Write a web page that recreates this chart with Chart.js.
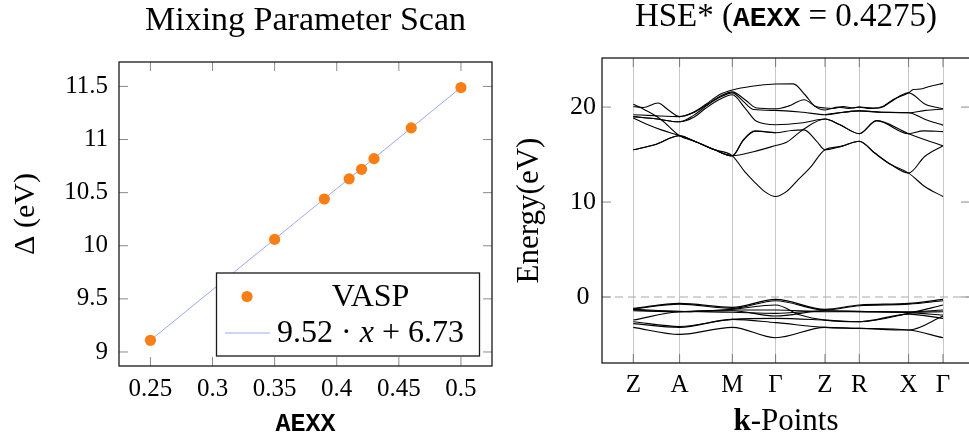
<!DOCTYPE html>
<html>
<head>
<meta charset="utf-8">
<script src="https://cdn.jsdelivr.net/npm/chart.js@4.4.1/dist/chart.umd.min.js"></script>
<style>
  html, body { margin: 0; padding: 0; background: #fff; overflow: hidden; }
  canvas { position: absolute; top: 0; }
  #scan { left: 0; }
  #bands { left: 500px; }
</style>
</head>
<body>
<canvas id="scan" width="500" height="443"></canvas>
<canvas id="bands" width="480" height="443"></canvas>
<script>
// ---- mixing parameter scan ----
const aexx = [0.25, 0.35, 0.39, 0.41, 0.42, 0.43, 0.46, 0.5];
const gap = [9.11, 10.06, 10.44, 10.63, 10.72, 10.82, 11.11, 11.49];
const fitSlope = 9.52;
const fitIntercept = 6.73;
const fitX = [0.25, 0.5];
const scanXTicks = [0.25, 0.3, 0.35, 0.4, 0.45, 0.5];
const scanYTicks = [9, 9.5, 10, 10.5, 11, 11.5];

// ---- band structure, k-path Z-A-M-Γ-Z-R-X-Γ ----
const kLabels = ['Z', 'A', 'M', 'Γ', 'Z', 'R', 'X', 'Γ'];
const kPos = [0, 0.463, 0.99, 1.423, 1.917, 2.26, 2.753, 3.097];
const energyTicks = [0, 10, 20];

// conduction bands [k, E]
const cb1 = [[0,15.5],[0.213,16.03],[0.463,16.98],[0.613,16.4],[0.813,15.5],[0.99,14.87],[1.114,13.2],[1.207,12.16],[1.314,11.1],[1.423,10.58],[1.53,11.1],[1.647,12.34],[1.764,13.57],[1.917,15.5],[2.08,15.86],[2.26,16.41],[2.414,15.16],[2.58,13.92],[2.753,13.05],[2.914,11.64],[3.097,10.58]];
const cb2 = [[0,15.5],[0.213,16.03],[0.463,16.98],[0.613,16.4],[0.813,15.5],[0.99,14.87],[1.213,15.33],[1.423,15.95],[1.533,16.3],[1.707,17.7],[1.917,18.74],[2.067,18.14],[2.26,17.2],[2.433,18.57],[2.753,17.2],[2.9,17.5],[3.097,17.42]];
const cb3 = [[0,18.85],[0.147,18.14],[0.28,17.6],[0.463,16.98],[0.613,16.4],[0.813,15.5],[0.99,14.87],[1.1,16.56],[1.217,17.5],[1.423,17.3],[1.584,17.54],[1.707,17.6],[1.834,16.4],[1.917,15.5],[2.08,15.86],[2.26,16.41],[2.414,15.16],[2.58,13.92],[2.753,13.05],[2.914,14.8],[3.097,15.93]];
const cb4 = [[0,20.3],[0.117,19.7],[0.28,18.67],[0.463,16.98],[0.613,16.4],[0.813,15.5],[0.99,14.87],[1.1,16.5],[1.217,17.45],[1.423,17.3]];
const cb5 = [[0,20.07],[0.1,19.95],[0.247,20.43],[0.35,19.7],[0.463,19.0],[0.6,19.4],[0.727,20.2],[0.86,21.1],[0.99,21.6],[1.117,20.78],[1.233,19.9],[1.423,19.82],[1.55,20.1],[1.707,20.78],[1.82,20.1],[1.917,19.9],[2.0,19.85],[2.1,20.05],[2.2,19.92],[2.26,20.0],[2.35,19.85],[2.48,19.95],[2.58,20.6],[2.753,21.5],[2.92,20.3],[3.097,19.83]];
const cb6 = [[0,19.2],[0.2,19.1],[0.463,19.0],[0.6,19.45],[0.727,20.3],[0.86,21.3],[0.99,21.8],[1.184,22.2],[1.423,22.43],[1.6,22.45],[1.717,21.3],[1.817,20.07],[1.917,19.7],[2.05,20.0],[2.15,19.85],[2.26,20.0],[2.4,19.9],[2.5,20.1],[2.6,20.8],[2.753,21.5],[2.8,21.85],[2.87,21.9],[2.95,22.15],[3.097,22.5]];
const cb7 = [[0,19.0],[0.2,18.8],[0.463,18.45],[0.6,18.9],[0.727,19.9],[0.86,20.8],[0.99,21.3],[1.117,19.9],[1.233,18.5],[1.423,18.14],[1.7,18.35],[1.917,18.74],[2.067,18.14],[2.26,17.2],[2.433,18.57],[2.753,17.2],[2.917,16.56],[3.097,15.93]];
const cb8 = [[0,19.0],[0.2,18.8],[0.463,18.45],[0.6,19.1],[0.727,20.1],[0.86,21.0],[0.99,21.5],[1.1,20.6],[1.2,19.75],[1.423,19.65],[1.7,19.45],[1.917,19.2],[2.1,19.45],[2.26,19.6],[2.5,19.45],[2.753,19.4],[2.92,19.65],[3.097,19.8]];
const cb9 = [[1.917,19.2],[2.1,19.45],[2.26,19.6],[2.5,19.45],[2.753,19.4],[2.92,18.7],[3.097,18.1]];

// valence bands [k, E]
const vb1 = [[0,-1.2],[0.463,-0.67],[0.99,-1.09],[1.423,-0.25],[1.917,-1.3],[2.26,-0.84],[2.753,-0.67],[3.097,-0.25]];
const vb2 = [[0,-1.25],[0.463,-0.75],[0.99,-1.2],[1.423,-0.39],[1.917,-1.37],[2.26,-0.92],[2.753,-0.75],[3.097,-0.39]];
const vb3 = [[0,-1.37],[0.463,-1.55],[0.99,-1.3],[1.423,-0.84],[1.67,-1.9],[1.917,-2.43],[2.26,-2.6],[2.753,-1.72],[3.097,-0.84]];
const vb4 = [[0,-1.45],[0.463,-1.55],[0.99,-1.37],[1.423,-1.37],[1.917,-1.55],[2.26,-1.55],[2.753,-1.55],[3.097,-1.37]];
const vb5 = [[0,-2.43],[0.463,-1.55],[0.99,-1.45],[1.423,-2.0],[1.917,-1.45],[2.26,-1.55],[2.753,-1.65],[3.097,-1.9]];
const vb6 = [[0,-2.6],[0.463,-3.1],[0.99,-2.36],[1.423,-2.25],[1.917,-2.43],[2.26,-2.6],[2.753,-1.8],[3.097,-2.25]];
const vb7 = [[0,-3.2],[0.463,-3.94],[0.99,-3.2],[1.423,-4.29],[1.917,-3.2],[2.26,-3.3],[2.753,-3.48],[3.097,-4.29]];
const vb8 = [[0,-2.8],[0.463,-3.2],[0.99,-2.36],[1.423,-2.7],[1.917,-3.2],[2.26,-3.3],[2.753,-3.48],[3.097,-2.0]];
const vb9 = [[0,-1.3],[0.463,-1.5],[0.99,-1.6],[1.423,-1.72],[1.917,-1.45],[2.26,-1.5],[2.753,-1.6],[3.097,-1.55]];

const bandList = [cb1, cb2, cb3, cb4, cb5, cb6, cb7, cb8, cb9, vb1, vb2, vb3, vb4, vb5, vb6, vb7, vb8, vb9];

const SERIF = "'Liberation Serif', 'Times New Roman', serif";
const MONO = "'Liberation Mono', 'DejaVu Sans Mono', monospace";
const orange = '#fb7e14';
const fitBlue = '#9aa9f2';

// draws a list of differently styled text runs centred on cx
function drawRuns(ctx, runs, cx, baseline) {
  let total = 0;
  runs.forEach(r => { ctx.font = r.font; r.w = ctx.measureText(r.text).width; total += r.w; });
  let x = cx - total / 2;
  ctx.textAlign = 'left';
  ctx.textBaseline = 'alphabetic';
  ctx.fillStyle = '#000';
  runs.forEach(r => { ctx.font = r.font; ctx.fillText(r.text, x, baseline); x += r.w; });
}

function textPlugin(id, items) {
  return {
    id: id,
    afterDraw(chart) {
      const ctx = chart.ctx;
      const cx = (chart.chartArea.left + chart.chartArea.right) / 2;
      ctx.save();
      items.forEach(it => drawRuns(ctx, it.runs, cx, it.baseline));
      ctx.restore();
    }
  };
}

// axis box with inward tick marks on all four sides
function framePlugin(opts) {
  return {
    id: 'frame',
    afterDatasetsDraw(chart) {
      const {ctx, chartArea: a, scales} = chart;
      ctx.save();
      if (opts.zeroLine) {
        const y0 = scales.y.getPixelForValue(0);
        ctx.strokeStyle = '#a8a8a8';
        ctx.lineWidth = 1;
        ctx.setLineDash([8, 5]);
        ctx.beginPath();
        ctx.moveTo(a.left, y0);
        ctx.lineTo(a.right, y0);
        ctx.stroke();
        ctx.setLineDash([]);
      }
      ctx.lineWidth = 1;
      ctx.strokeStyle = opts.xTickColor;
      scales.x.ticks.forEach(t => {
        const px = scales.x.getPixelForValue(t.value);
        ctx.beginPath();
        ctx.moveTo(px, a.bottom); ctx.lineTo(px, a.bottom - opts.len);
        ctx.moveTo(px, a.top); ctx.lineTo(px, a.top + opts.len);
        ctx.stroke();
      });
      ctx.strokeStyle = opts.yTickColor;
      scales.y.ticks.forEach(t => {
        const py = scales.y.getPixelForValue(t.value);
        ctx.beginPath();
        ctx.moveTo(a.left, py); ctx.lineTo(a.left + opts.len, py);
        ctx.moveTo(a.right, py); ctx.lineTo(a.right - opts.len, py);
        ctx.stroke();
      });
      ctx.strokeStyle = '#1a1a1a';
      ctx.lineWidth = 1.3;
      ctx.strokeRect(a.left, a.top, a.right - a.left, a.bottom - a.top);
      ctx.restore();
    }
  };
}

// boxed legend in the lower right of the plot area
const scanLegend = {
  id: 'scanLegend',
  afterDraw(chart) {
    const {ctx, chartArea: a} = chart;
    const w = 263, h = 83;
    const left = a.right - 12.5 - w, top = a.bottom - 10 - h;
    const [pts, fit] = chart.data.datasets;
    ctx.save();
    ctx.fillStyle = '#fff';
    ctx.fillRect(left, top, w, h);
    ctx.strokeStyle = '#1a1a1a';
    ctx.lineWidth = 1.3;
    ctx.strokeRect(left, top, w, h);
    // marker entry
    ctx.fillStyle = pts.backgroundColor;
    ctx.beginPath();
    ctx.arc(left + 30.5, top + 23.5, pts.pointRadius, 0, Math.PI * 2);
    ctx.fill();
    drawRuns(ctx, [{text: pts.label, font: '32px ' + SERIF}], left + 154, top + 32.5);
    // line entry
    ctx.strokeStyle = fit.borderColor;
    ctx.lineWidth = fit.borderWidth;
    ctx.beginPath();
    ctx.moveTo(left + 8.5, top + 60);
    ctx.lineTo(left + 53.5, top + 60);
    ctx.stroke();
    const parts = fit.label.split('x');
    drawRuns(ctx, [
      {text: parts[0], font: '32px ' + SERIF},
      {text: 'x', font: 'italic 32px ' + SERIF},
      {text: parts[1], font: '32px ' + SERIF}
    ], left + 154, top + 69);
    ctx.restore();
  }
};

const tickFont = {family: SERIF, size: 25};

new Chart(document.getElementById('scan'), {
  type: 'scatter',
  data: {
    datasets: [
      {
        label: 'VASP',
        data: aexx.map((x, i) => ({x: x, y: gap[i]})),
        backgroundColor: orange,
        borderColor: orange,
        borderWidth: 0,
        pointRadius: 5.6,
        pointHoverRadius: 5.6
      },
      {
        label: fitSlope.toFixed(2) + ' · x + ' + fitIntercept.toFixed(2),
        data: fitX.map(x => ({x: x, y: fitSlope * x + fitIntercept})),
        showLine: true,
        borderColor: fitBlue,
        borderWidth: 1,
        pointRadius: 0
      }
    ]
  },
  options: {
    responsive: false,
    animation: false,
    events: [],
    layout: {padding: {top: 62, right: 8, left: 0, bottom: 0}},
    plugins: {legend: {display: false}, tooltip: {enabled: false}},
    scales: {
      x: {
        type: 'linear', min: 0.2247, max: 0.525,
        afterBuildTicks: s => { s.ticks = scanXTicks.map(v => ({value: v})); },
        afterFit: s => { s.height = 77; },
        grid: {display: false, drawTicks: false},
        border: {display: false},
        ticks: {font: tickFont, color: '#000', padding: 8, maxRotation: 0, callback: v => String(v)},
        title: {display: true, text: 'AEXX', color: '#000', font: {family: MONO, size: 25, weight: 'bold'}, padding: {top: 0, bottom: 3}}
      },
      y: {
        min: 8.868, max: 11.73,
        afterBuildTicks: s => { s.ticks = scanYTicks.map(v => ({value: v})); },
        afterFit: s => { s.width = 119; },
        grid: {display: false, drawTicks: false},
        border: {display: false},
        ticks: {font: tickFont, color: '#000', padding: 11, callback: v => String(v)},
        title: {display: true, text: 'Δ (eV)', color: '#000', font: {family: SERIF, size: 30}, padding: {top: 8, bottom: 0}}
      }
    }
  },
  plugins: [
    framePlugin({len: 9, xTickColor: '#8a8a8a', yTickColor: '#8a8a8a'}),
    textPlugin('scanTitle', [{runs: [{text: 'Mixing Parameter Scan', font: '34px ' + SERIF}], baseline: 30}]),
    scanLegend
  ]
});

new Chart(document.getElementById('bands'), {
  type: 'line',
  data: {
    datasets: bandList.map(b => ({
      data: b.map(p => ({x: p[0], y: p[1]})),
      borderColor: '#000',
      borderWidth: 1.1,
      pointRadius: 0,
      fill: false,
      cubicInterpolationMode: 'monotone'
    }))
  },
  options: {
    responsive: false,
    animation: false,
    events: [],
    layout: {padding: {top: 58, right: 10, left: 0, bottom: 0}},
    plugins: {legend: {display: false}, tooltip: {enabled: false}},
    scales: {
      x: {
        type: 'linear', min: -0.313, max: 3.367,
        afterBuildTicks: s => { s.ticks = kPos.map(v => ({value: v})); },
        afterFit: s => { s.height = 80; },
        grid: {display: true, color: '#c8c8c8', lineWidth: 1, drawTicks: false},
        border: {display: false},
        ticks: {font: tickFont, color: '#000', padding: 7, maxRotation: 0, autoSkip: false, callback: (v, i) => kLabels[i]}
      },
      y: {
        min: -6.95, max: 25.17,
        afterBuildTicks: s => { s.ticks = energyTicks.map(v => ({value: v})); },
        afterFit: s => { s.width = 102; },
        grid: {display: false, drawTicks: false},
        border: {display: false},
        ticks: {font: {family: SERIF, size: 26}, color: '#000', padding: 6, crossAlign: 'center', callback: v => String(v)},
        title: {display: true, text: 'Energy(eV)', color: '#000', font: {family: SERIF, size: 31}, padding: {top: 11, bottom: 0}}
      }
    }
  },
  plugins: [
    framePlugin({len: 9, xTickColor: '#7a7a7a', yTickColor: '#8a8a8a', zeroLine: true}),
    textPlugin('bandTitles', [
      {runs: [
        {text: 'HSE* (', font: '33px ' + SERIF},
        {text: 'AEXX', font: 'bold 28px ' + MONO},
        {text: ' = 0.4275)', font: '33px ' + SERIF}
      ], baseline: 26},
      {runs: [
        {text: 'k', font: 'bold 31px ' + SERIF},
        {text: '-Points', font: '31px ' + SERIF}
      ], baseline: 430}
    ])
  ]
});
</script>
</body>
</html>
